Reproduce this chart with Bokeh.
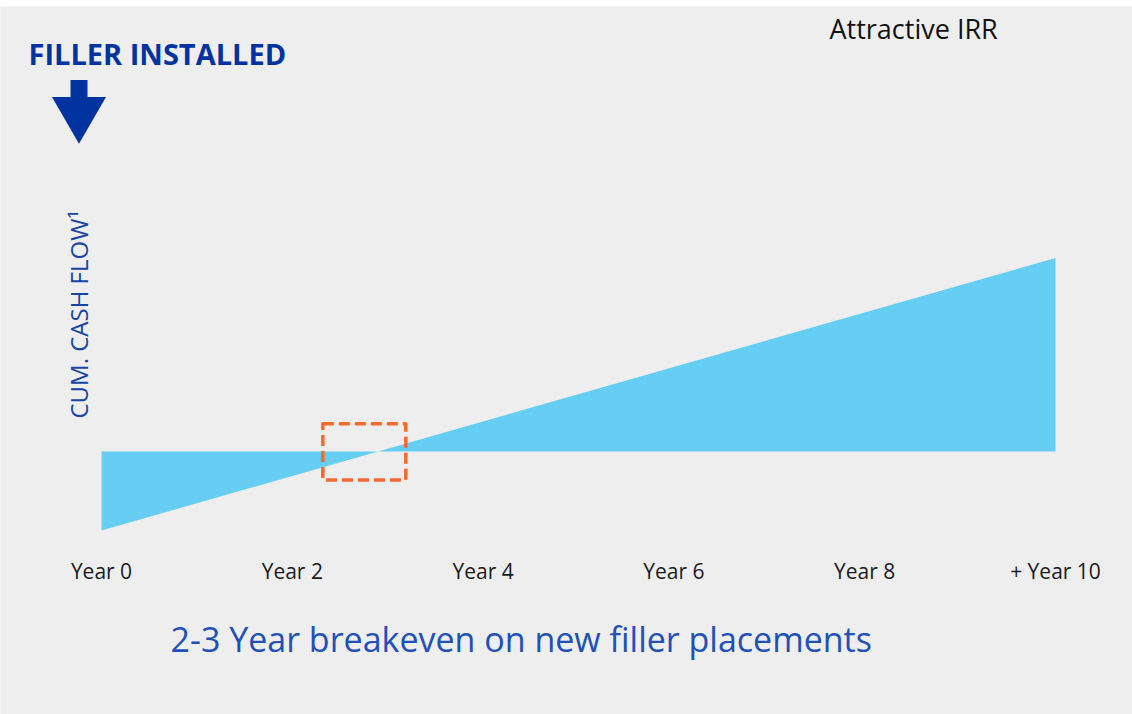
import math
from bokeh.plotting import figure
from bokeh.models import Range1d, FixedTicker, Label, Spacer
from bokeh.layouts import column
from bokeh.embed import file_html
from bokeh.resources import INLINE

# ---- data ----
years = [0, 10]
cum_cash_flow = [-2.0, 4.9]
baseline = [0, 0]
tick_years = [0, 2, 4, 6, 8, 10]
tick_labels = ["Year 0", "Year 2", "Year 4", "Year 6", "Year 8", "+ Year 10"]
breakeven_window_years = [2.32, 3.19]
breakeven_window_cf = [-0.72, 0.70]

title_text = "FILLER INSTALLED"
irr_text = "Attractive IRR"
ylabel_text = "CUM. CASH FLOW\u00b9"
subtitle_text = "2-3 Year breakeven on new filler placements"

BG = "#eeeeee"
AREA = "#66cef2"
DARKBLUE = "#0033a0"
ORANGE = "#f26a2c"
FONT = "Open Sans"

# helpers: page pixel -> data (for decoration placement)
X0, PXY = 101.0, 95.4
Y0, PYU = 451.0, 39.5
def dx(px):
    return (px - X0) / PXY
def dy(py):
    return (Y0 - py) / PYU

W, H = 1132, 708

p = figure(width=W, height=H, output_backend="svg", toolbar_location=None,
           x_range=Range1d(dx(0), dx(1132)), y_range=Range1d(dy(714), dy(6)),
           y_axis_location=None,
           min_border_left=0, min_border_right=0, min_border_top=0,
           min_border_bottom=0)
p.background_fill_color = BG
p.border_fill_color = BG
p.outline_line_color = None
p.grid.visible = False

# area between cumulative cash flow and zero
p.varea(x=years, y1=baseline, y2=cum_cash_flow, fill_color=AREA, fill_alpha=1.0)

# breakeven window
p.quad(left=[breakeven_window_years[0]], right=[breakeven_window_years[1]],
       bottom=[breakeven_window_cf[0]], top=[breakeven_window_cf[1]],
       fill_color=None, line_color=ORANGE, line_width=3.5, line_dash="11 5",
       line_join="round")

# x axis labels
ax = p.xaxis[0]
ax.fixed_location = dy(545)
ax.ticker = FixedTicker(ticks=tick_years)
ax.major_label_overrides = {t: l for t, l in zip(tick_years, tick_labels)}
ax.axis_line_color = None
ax.major_tick_line_color = None
ax.minor_tick_line_color = None
ax.major_label_standoff = 5
ax.major_label_text_font = FONT
ax.major_label_text_font_size = "21px"
ax.major_label_text_color = "#1a1a1a"

# arrow decoration
p.rect(x=[dx(78.5)], y=[dy(90)], width=17, height=21, width_units="screen",
       height_units="screen", fill_color=DARKBLUE, line_color=None)
p.scatter(x=[dx(78.5)], y=[dy(112)], marker="inverted_triangle", size=54,
          fill_color=DARKBLUE, line_color=None)

p.add_layout(Label(x=dx(28), y=dy(53), text=title_text, text_font=FONT,
                   text_font_size="29px", text_font_style="bold",
                   text_color=DARKBLUE, text_baseline="alphabetic"))
p.add_layout(Label(x=dx(829), y=dy(28), text=irr_text, text_font=FONT,
                   text_font_size="27px", text_color="#111111",
                   text_baseline="alphabetic"))
p.add_layout(Label(x=dx(78), y=dy(418), text=ylabel_text, text_font=FONT,
                   text_font_size="24px", text_color="#1745a5", angle=math.pi / 2,
                   text_align="left", text_baseline="alphabetic"))
p.add_layout(Label(x=dx(170), y=dy(638), text=subtitle_text, text_font=FONT,
                   text_font_size="34px", text_color="#2050b8",
                   text_baseline="alphabetic"))

layout = column(Spacer(width=W, height=6), p, spacing=0)
open("out.html", "w").write(file_html(layout, INLINE))
